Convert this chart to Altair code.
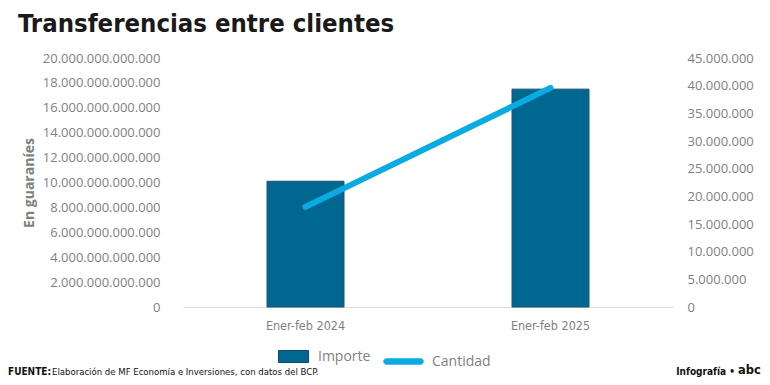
import altair as alt
import pandas as pd

periodos = ["Ener-feb 2024", "Ener-feb 2025"]
importe = [10_100_000_000_000, 17_500_000_000_000]
cantidad = [18_100_000, 39_600_000]

df = pd.DataFrame({"periodo": periodos, "importe": importe, "cantidad": cantidad})

COND = "Liberation Sans Narrow, DejaVu Sans Condensed, Liberation Sans, sans-serif"
REG = "Open Sans, sans-serif"
GRAY = "#7f7f7f"
BAR = "#006890"
LINE = "#0aaae2"

x = alt.X("periodo:N", sort=periodos, title=None,
          scale=alt.Scale(paddingInner=0, paddingOuter=0),
          axis=alt.Axis(labelAngle=0, labelFont=COND, labelFontSize=12.5, labelColor=GRAY,
                        labelPadding=12, ticks=False, domainColor="#d9d9d9", domainWidth=1))

bars = alt.Chart(df).transform_calculate(serie="'Importe'").mark_bar(
    size=77, stroke="#1a5274", strokeWidth=1).encode(
    x=x,
    y=alt.Y("importe:Q", title="En guaraníes",
            scale=alt.Scale(domain=[0, 20_000_000_000_000]),
            axis=alt.Axis(values=list(range(0, 20_000_000_000_001, 2_000_000_000_000)),
                          format=",.0f", labelFont=REG, labelFontSize=13, labelColor=GRAY,
                          labelPadding=23, ticks=False, domain=False, grid=False,
                          titleFont=REG, titleFontSize=14, titleFontWeight="bold",
                          titleColor=GRAY, titlePadding=6)),
    color=alt.Color("serie:N", scale=alt.Scale(domain=["Importe"], range=[BAR]),
                    legend=alt.Legend(title=None, orient="none", legendX=95, legendY=283,
                                      labelFont=REG, labelFontSize=14, labelColor=GRAY,
                                      symbolType="M-1,-0.4H1V0.4H-1Z", symbolSize=900,
                                      symbolStrokeColor="#16466a", symbolStrokeWidth=1,
                                      symbolOpacity=1, labelOffset=9)),
)

line = alt.Chart(df).transform_calculate(serie="'Cantidad'").mark_line(
    strokeWidth=6, strokeCap="round").encode(
    x=x,
    y=alt.Y("cantidad:Q", title=None,
            scale=alt.Scale(domain=[0, 45_000_000]),
            axis=alt.Axis(orient="right", values=list(range(0, 45_000_001, 5_000_000)),
                          format=",.0f", labelFont=REG, labelFontSize=13, labelColor=GRAY,
                          labelPadding=14, ticks=False, domain=False, grid=False)),
    color=alt.Color("serie:N", scale=alt.Scale(domain=["Cantidad"], range=[LINE]),
                    legend=alt.Legend(title=None, orient="none", legendX=200, legendY=283,
                                      labelFont=REG, labelFontSize=14, labelColor=GRAY,
                                      symbolType="M-0.85,-0.15H0.85A0.15,0.15 0 0 1 0.85,0.15H-0.85A0.15,0.15 0 0 1 -0.85,-0.15Z",
                                      symbolSize=1600, symbolFillColor=LINE,
                                      symbolStrokeColor=LINE, symbolStrokeWidth=0.5,
                                      symbolOpacity=1, labelOffset=8)),
)

foot = pd.DataFrame({"t": [0]})
fuente = alt.Chart(foot).mark_text(text="FUENTE:", font=COND, fontSize=10, fontWeight="bold",
                                   align="left", baseline="middle", color="#111").encode(
    x=alt.value(-175), y=alt.value(314))
fuente2 = alt.Chart(foot).mark_text(text="Elaboración de MF Economía e Inversiones, con datos del BCP.",
                                    font=COND, fontSize=9.5, align="left", baseline="middle",
                                    color="#111").encode(x=alt.value(-131), y=alt.value(314))
info = alt.Chart(foot).mark_text(text="Infografía •", font=COND, fontSize=10, fontWeight="bold",
                                 align="right", baseline="middle", color="#111").encode(
    x=alt.value(552), y=alt.value(314))
abc = alt.Chart(foot).mark_text(text="abc", font="DejaVu Sans, sans-serif", fontSize=11.5,
                                fontWeight="bold", align="left", baseline="middle",
                                color="#111").encode(x=alt.value(555), y=alt.value(313))

chart = alt.layer(bars, line, fuente, fuente2, info, abc).resolve_scale(
    y="independent", color="independent"
).properties(
    width=490, height=249,
    autosize=alt.AutoSizeParams(type="none"),
    padding={"left": 175, "top": 50, "right": 89, "bottom": 70},
    title=alt.TitleParams("Transferencias entre clientes", font=COND, fontSize=25.5,
                          fontWeight="bold", color="#1a1a1a", anchor="start",
                          frame="group", dx=-165, offset=15),
).configure_view(stroke=None)

chart.save("out.html", embed_options={
    "renderer": "svg", "actions": False,
    "formatLocale": {"decimal": ",", "thousands": ".", "grouping": [3], "currency": ["", ""]},
})
